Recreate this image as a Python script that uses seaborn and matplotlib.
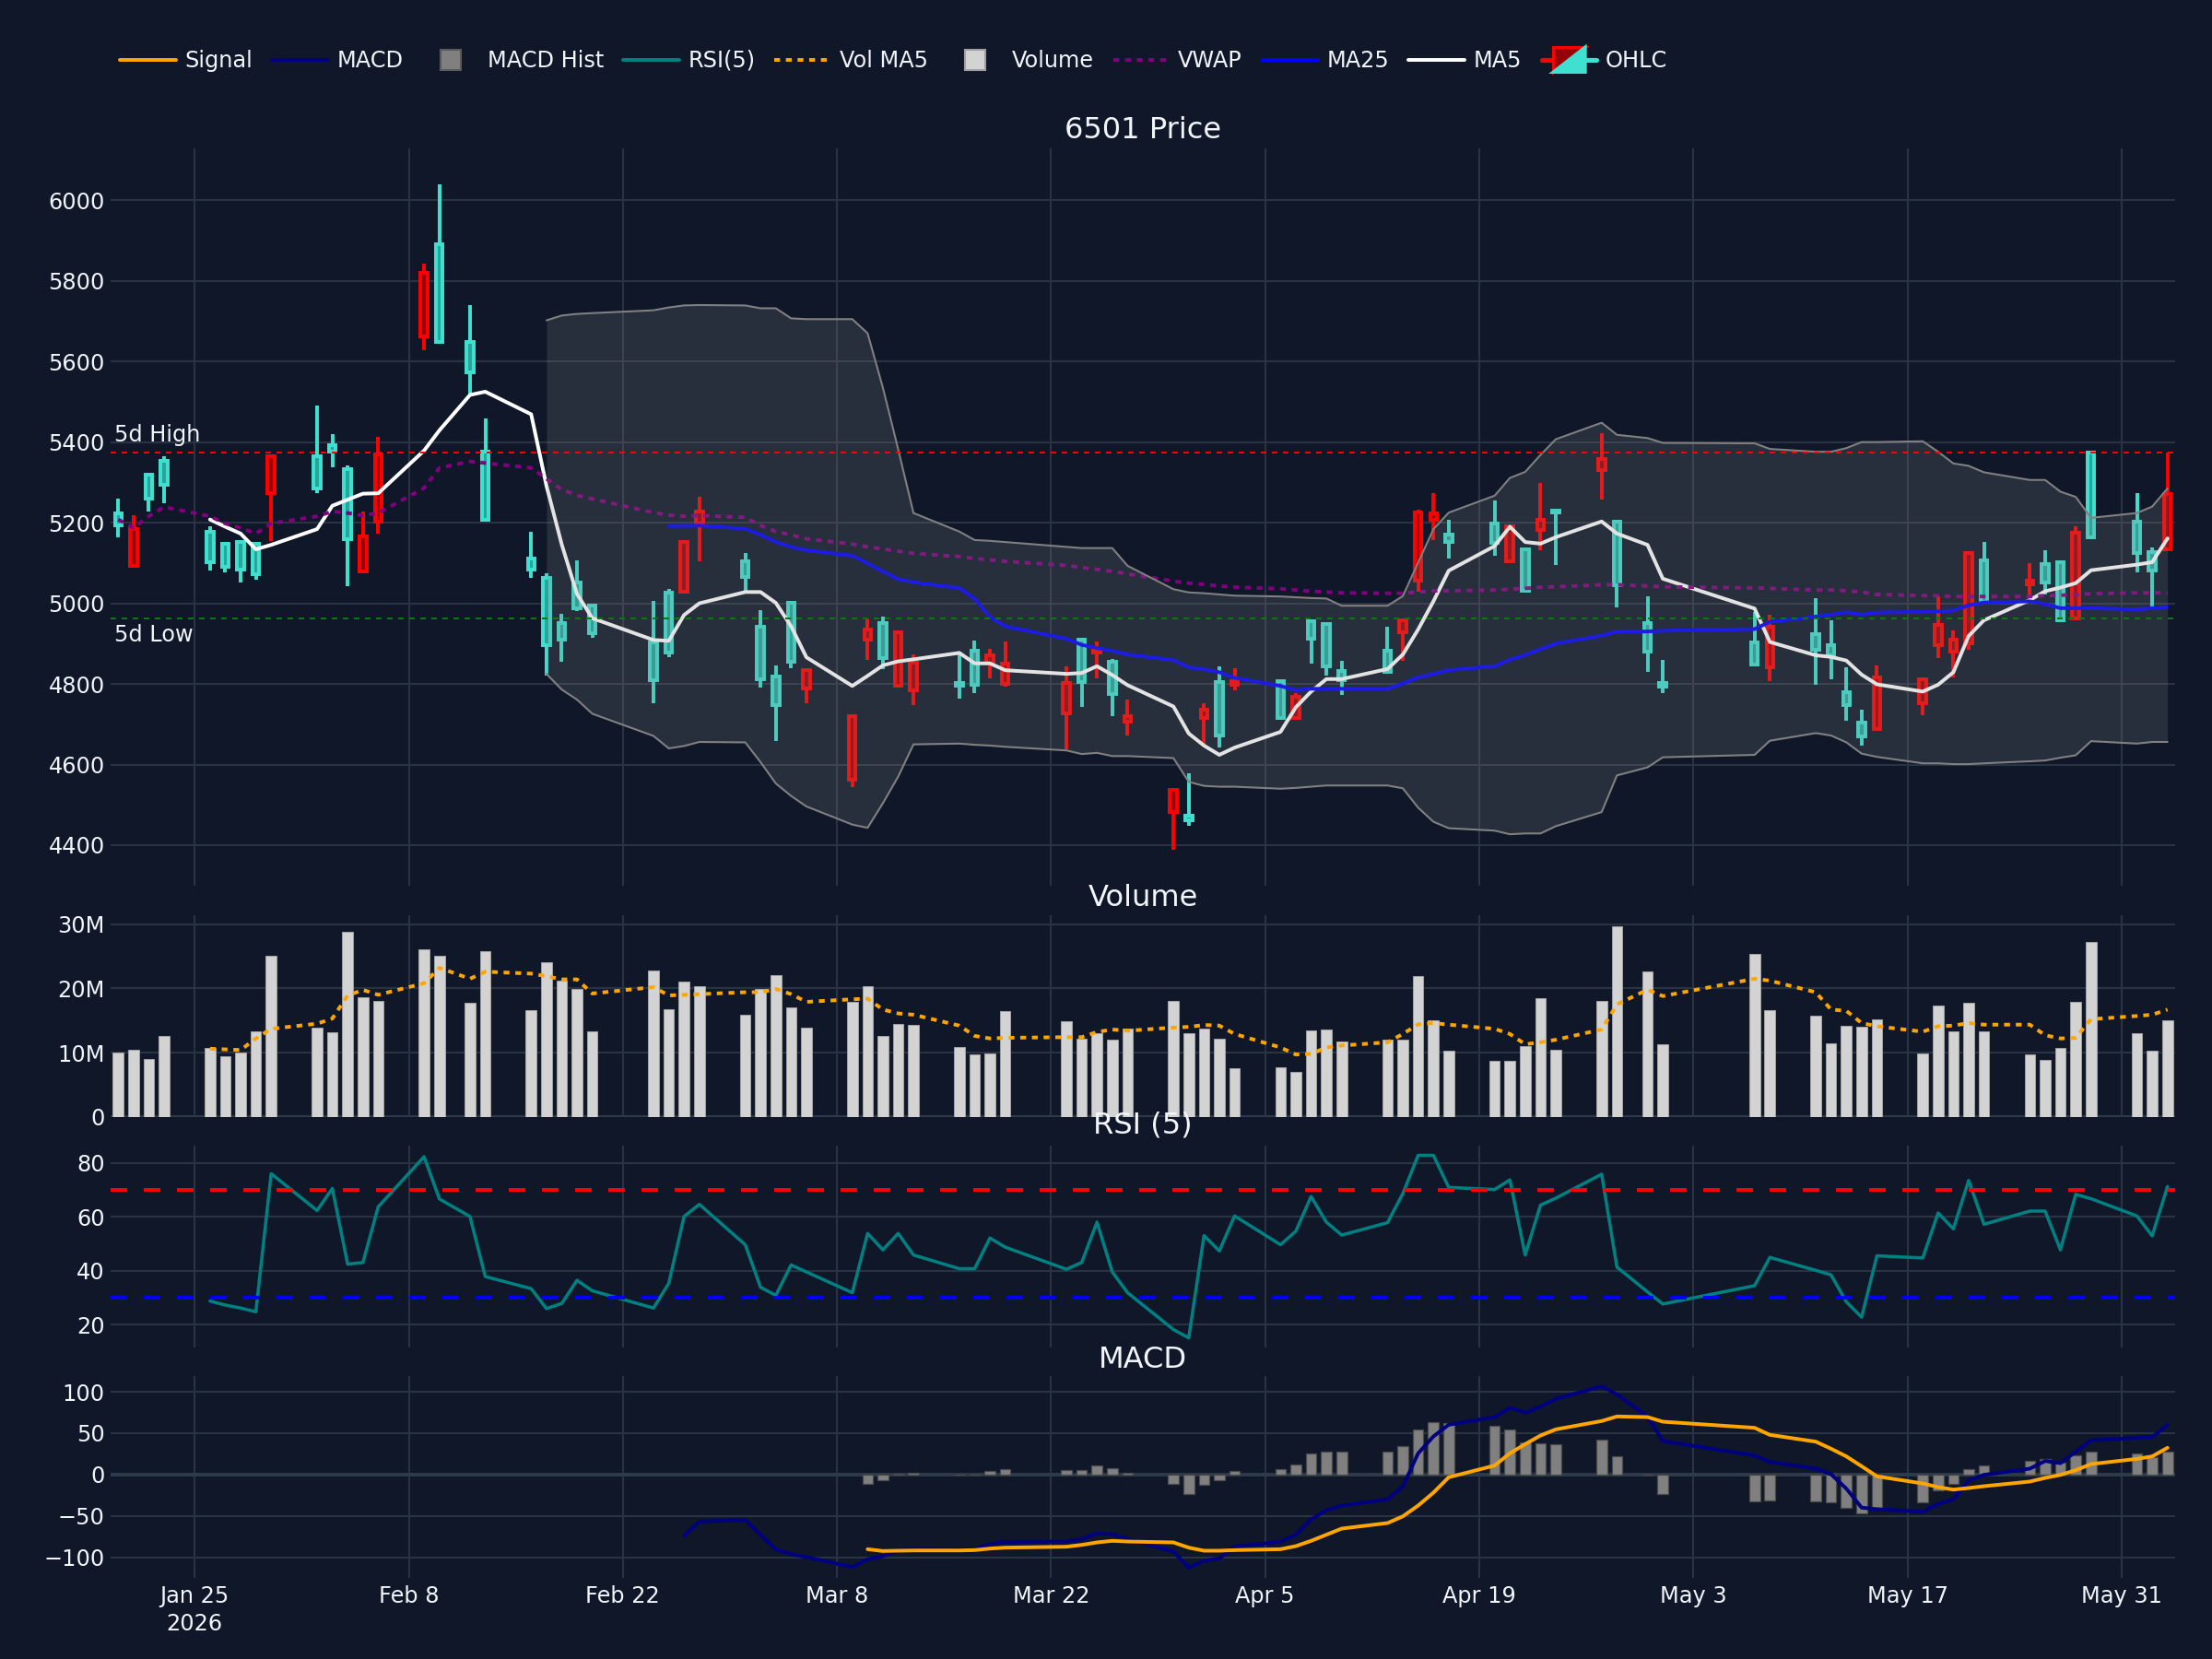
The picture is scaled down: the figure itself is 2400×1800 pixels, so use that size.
import numpy as np
import pandas as pd
import matplotlib
matplotlib.use("Agg")
import matplotlib.pyplot as plt
import matplotlib.dates as mdates
from matplotlib.patches import Rectangle, Polygon
from matplotlib.lines import Line2D
from matplotlib.legend_handler import HandlerBase
import seaborn as sns

# ---------------- trading days (2026) ----------------
jan_days = [20, 21, 22, 23, 26, 27, 28, 29, 30]
feb_days = [2, 3, 4, 5, 6, 9, 10, 12, 13, 16, 17, 18, 19, 20, 24, 25, 26, 27]
mar_days = [2, 3, 4, 5, 6, 9, 10, 11, 12, 13, 16, 17, 18, 19, 23, 24, 25, 26, 27, 30, 31]
apr_days = [1, 2, 3, 6, 7, 8, 9, 10, 13, 14, 15, 16, 17, 20, 21, 22, 23, 24, 27, 28, 30]
may_days = [1, 7, 8, 11, 12, 13, 14, 15, 18, 19, 20, 21, 22, 25, 26, 27, 28, 29]
jun_days = [1, 2, 3]

# ---------------- OHLC ----------------
open_ = [5193, 5184, 5260, 5295, 5103, 5091, 5084, 5073, 5364,
         5284, 5377, 5158, 5167, 5370, 5820, 5648, 5572, 5207, 5084, 4895, 4910, 4988, 4926, 4810, 4877, 5152, 5228,
         5065, 4812, 4747, 4856, 4834, 4720, 4936, 4863, 4928, 4853, 4796, 4798, 4871, 4851, 4802, 4805, 4887, 4776, 4720, 4537, 4462,
         4737, 4672, 4808, 4716, 4767, 4913, 4843, 4810, 4830, 4958, 5225, 5223, 5153, 5149, 5191, 5031, 5206, 5225, 5359, 5044, 4879,
         4793, 4847, 4941, 4884, 4872, 4748, 4669, 4815, 4811, 4947, 4909, 5124, 5004, 5056, 5052, 4957, 5176, 5163,
         5124, 5081, 5271]
high = [5259, 5219, 5320, 5365, 5192, 5150, 5157, 5150, 5366,
        5490, 5420, 5342, 5228, 5412, 5842, 6039, 5739, 5459, 5177, 5075, 4974, 5107, 4996, 5006, 5035, 5157, 5265,
        5124, 4982, 4846, 5004, 4836, 4722, 4961, 4967, 4930, 4873, 4873, 4907, 4886, 4906, 4843, 4915, 4906, 4861, 4762, 4540, 4578,
        4752, 4843, 4839, 4810, 4777, 4958, 4950, 4858, 4943, 4960, 5232, 5273, 5208, 5256, 5193, 5136, 5298, 5231, 5422, 5206, 5018,
        4860, 4979, 4972, 5012, 4958, 4842, 4735, 4845, 4815, 5017, 4932, 5126, 5152, 5100, 5132, 5106, 5192, 5378,
        5273, 5139, 5374]
low = [5163, 5090, 5228, 5249, 5082, 5076, 5052, 5058, 5155,
       5274, 5338, 5043, 5076, 5173, 5628, 5648, 5519, 5205, 5062, 4821, 4854, 4980, 4915, 4751, 4866, 5027, 5105,
       5030, 4790, 4659, 4839, 4752, 4545, 4859, 4836, 4792, 4747, 4764, 4778, 4813, 4793, 4637, 4744, 4813, 4720, 4672, 4389, 4448,
       4650, 4642, 4783, 4713, 4714, 4851, 4821, 4772, 4828, 4858, 5029, 5157, 5110, 5118, 5099, 5029, 5131, 5096, 5258, 4991, 4830,
       4777, 4845, 4808, 4797, 4812, 4708, 4648, 4685, 4722, 4864, 4816, 4884, 5000, 5004, 5021, 4955, 4960, 5161,
       5076, 4993, 5131]
close = [5224, 5093, 5319, 5354, 5178, 5148, 5152, 5148, 5274,
         5364, 5392, 5333, 5079, 5202, 5663, 5890, 5648, 5377, 5111, 5064, 4951, 5052, 4994, 4904, 5027, 5029, 5198,
         5104, 4943, 4818, 5002, 4788, 4563, 4910, 4951, 4795, 4785, 4802, 4882, 4851, 4800, 4728, 4910, 4878, 4856, 4706, 4483, 4472,
         4716, 4805, 4798, 4807, 4716, 4956, 4948, 4832, 4882, 4928, 5057, 5208, 5171, 5197, 5105, 5133, 5181, 5230, 5330, 5203, 4950,
         4803, 4904, 4841, 4923, 4895, 4779, 4703, 4687, 4752, 4897, 4881, 4900, 5106, 5046, 5097, 5103, 4962, 5374,
         5202, 5128, 5135]

# ---------------- volume (millions) ----------------
volume_m = [9.95, 10.4, 9.0, 12.6, 10.7, 9.4, 9.95, 13.25, 25.1,
            13.9, 13.1, 28.75, 18.66, 18.0, 26.1, 25.1, 17.7, 25.8, 16.6, 24.1, 21.2, 19.9, 13.25, 22.8, 16.75, 21.0, 20.4,
            15.9, 19.9, 22.0, 17.0, 13.9, 17.85, 20.4, 12.6, 14.45, 14.3, 10.86, 9.7, 9.8, 16.5, 14.9, 12.15, 13.0, 11.96, 13.7, 18.1, 13.0,
            13.8, 12.2, 7.5, 7.7, 7.0, 13.5, 13.6, 11.7, 12.0, 12.06, 21.9, 15.0, 10.3, 8.7, 8.66, 11.0, 18.5, 10.4, 18.0, 29.7, 22.6,
            11.3, 25.4, 16.6, 15.7, 11.4, 14.1, 14.07, 15.2, 9.8, 17.3, 13.3, 17.7, 13.25, 9.76, 8.8, 10.7, 17.85, 27.2,
            13.06, 10.24, 15.0]
# from Jan 26 on
vol_ma5_m = [10.6, 10.5, 10.4, 12.2, 13.7,
             14.5, 15.3, 18.9, 19.76, 19.0, 20.8, 23.2, 21.5, 22.6, 22.3, 21.9, 21.4, 21.4, 19.2, 20.2, 18.9, 19.0, 19.1,
             19.4, 19.4, 19.9, 19.1, 17.9, 18.3, 18.4, 16.7, 16.1, 15.9, 14.2, 12.6, 12.2, 12.3, 12.4, 12.4, 13.2, 13.6, 13.4, 13.9, 14.0,
             14.3, 14.2, 12.9, 10.8, 9.7, 9.8, 10.8, 11.1, 11.6, 12.9, 14.4, 14.6, 14.35, 13.7, 12.9, 11.3, 11.6, 12.0, 13.6, 17.5, 19.8,
             18.8, 21.5, 21.2, 19.4, 16.7, 16.5, 14.6, 14.1, 13.25, 14.1, 14.2, 14.6, 14.35, 14.35, 12.7, 12.2, 12.3, 15.2,
             15.7, 15.9, 16.7]

# ---------------- price overlays ----------------
ma5 = [5208, 5190, 5173, 5134, 5145,
       5184, 5242, 5257, 5272, 5273, 5379, 5429, 5517, 5525, 5469, 5292, 5146, 5023, 4963, 4909, 4907, 4971, 5000,
       5028, 5028, 5001, 4943, 4866, 4795, 4820, 4846, 4856, 4861, 4877, 4851, 4851, 4834, 4825, 4827, 4844, 4822, 4797, 4744, 4677,
       4647, 4624, 4642, 4681, 4742, 4781, 4812, 4812, 4837, 4873, 4935, 5005, 5081, 5142, 5190, 5152, 5148, 5164, 5203, 5173, 5145,
       5061, 4987, 4904, 4871, 4867, 4858, 4823, 4799, 4781, 4798, 4829, 4919, 4958, 5008, 5030, 5039, 5050, 5082,
       5096, 5102, 5161]
# from Feb 25 on
ma25 = [5192, 5192, 5193,
        5185, 5170, 5152, 5140, 5132, 5118, 5099, 5079, 5060, 5052, 5038, 5011, 4966, 4943, 4912, 4897, 4889, 4882, 4873, 4859, 4841,
        4836, 4829, 4815, 4795, 4784, 4788, 4788, 4788, 4788, 4801, 4816, 4825, 4834, 4844, 4860, 4872, 4886, 4900, 4920, 4930, 4930,
        4932, 4936, 4954, 4967, 4972, 4978, 4972, 4977, 4979, 4980, 4982, 4995, 5002, 5005, 4998, 4988, 4988, 4988,
        4985, 4988, 4991]
vwap = [5208, 5187, 5216, 5239, 5216, 5198, 5187, 5173, 5198,
        5216, 5228, 5224, 5218, 5224, 5286, 5336, 5352, 5348, 5336, 5309, 5282, 5268, 5259, 5225, 5219, 5216, 5218,
        5213, 5193, 5178, 5170, 5160, 5147, 5140, 5135, 5129, 5124, 5116, 5111, 5108, 5104, 5094, 5089, 5084, 5079, 5073, 5055, 5050,
        5047, 5043, 5040, 5036, 5033, 5030, 5028, 5026, 5025, 5025, 5028, 5031, 5031, 5033, 5035, 5037, 5040, 5041, 5046, 5046, 5043,
        5041, 5038, 5037, 5033, 5033, 5031, 5028, 5022, 5019, 5019, 5017, 5017, 5017, 5017, 5019, 5020, 5021, 5024,
        5026, 5026, 5026]
# Bollinger band from Feb 17 on
bb_upper = [5702, 5714, 5718, 5720, 5727, 5734, 5739, 5740,
            5739, 5732, 5732, 5707, 5705, 5705, 5670, 5535, 5382, 5224, 5178, 5157, 5155, 5152, 5140, 5137, 5137, 5137, 5093, 5035, 5027,
            5025, 5022, 5019, 5017, 5015, 5013, 5012, 4994, 4994, 5018, 5101, 5184, 5225, 5267, 5311, 5326, 5368, 5407, 5448, 5418, 5410,
            5398, 5397, 5383, 5376, 5376, 5385, 5400, 5400, 5402, 5376, 5347, 5341, 5325, 5306, 5306, 5277, 5264, 5212,
            5224, 5240, 5285]
bb_lower = [4825, 4786, 4761, 4726, 4671, 4640, 4646, 4656,
            4655, 4606, 4553, 4522, 4496, 4451, 4443, 4504, 4570, 4650, 4652, 4649, 4647, 4644, 4635, 4626, 4629, 4621, 4621, 4616, 4557,
            4547, 4545, 4545, 4540, 4542, 4545, 4548, 4548, 4548, 4541, 4493, 4458, 4442, 4436, 4427, 4429, 4429, 4447, 4482, 4573, 4593,
            4618, 4624, 4659, 4678, 4672, 4655, 4627, 4619, 4603, 4603, 4601, 4601, 4603, 4608, 4610, 4617, 4623, 4658,
            4652, 4656, 4656]
high_5d = 5375
low_5d = 4962

# ---------------- RSI(5), from Jan 26 on ----------------
rsi5 = [28.7, 27.2, 26.1, 24.7, 76.0,
        62.3, 70.5, 42.4, 43.0, 63.7, 82.3, 66.6, 60.1, 37.8, 33.3, 25.9, 27.8, 36.4, 32.5, 26.1, 35.3, 60.1, 64.6,
        49.6, 33.8, 30.8, 42.1, 39.5, 31.8, 53.8, 47.7, 53.8, 45.8, 40.7, 40.7, 52.1, 48.7, 40.5, 43.0, 58.0, 39.5, 31.8, 18.1, 15.0,
        53.0, 47.3, 60.3, 49.6, 54.6, 67.5, 58.0, 53.2, 57.8, 68.6, 82.8, 82.8, 70.9, 70.1, 73.7, 45.8, 64.3, 66.9, 75.8, 41.3, 32.1,
        27.6, 34.4, 44.9, 40.1, 38.4, 28.4, 22.7, 45.5, 44.7, 61.4, 55.5, 73.5, 57.2, 62.1, 62.1, 47.7, 68.3, 66.7,
        60.3, 52.9, 71.2]

# ---------------- MACD ----------------
# MACD line from Feb 26 on
macd = [-73.8, -56.8,
        -54.9, -72.7, -90.5, -96.1, -99.8, -111.7, -102.4, -98.7, -91.3, -89.4, -90.5, -90.5, -83.9, -81.3, -80.9, -78.3, -70.9,
        -72.0, -77.6, -93.1, -112.4,
        -104.3, -101.3, -86.8, -81.3, -72.7, -54.2, -43.0, -37.5, -30.0, -14.5, 25.6, 46.0, 60.1, 69.4, 80.5, 74.6, 82.0, 91.3,
        106.5, 96.8, 70.1,
        40.4, 23.0, 15.2, 7.1, 0.4, -17.0, -40.0, -41.9, -44.9, -35.6, -30.0, -7.0, -0.4, 7.1, 16.3, 13.7, 27.5, 41.2,
        44.2, 45.3, 59.7]
# signal and histogram from Mar 10 on
signal = [-90.2, -92.4, -92.0, -91.7, -91.7, -91.3, -89.4, -88.3, -87.2, -85.0, -82.0, -80.1, -80.9, -82.0, -88.3,
          -92.0, -92.0, -91.3, -90.2, -86.5, -80.1, -72.7, -65.3, -58.6, -50.5, -37.5, -21.9, -3.3, 10.8, 25.6, 36.7, 47.1, 54.5,
          64.6, 70.1, 69.4,
          63.8, 56.4, 47.9, 39.7, 31.2, 21.9, 10.0, -2.2, -10.8, -15.2, -18.2, -16.3, -14.1, -8.5, -4.1, -0.4, 5.2, 12.6,
          18.9, 21.9, 32.3]
macd_hist = [-11.5, -6.7, 0.7, 2.2, -0.4, -0.4, 4.1, 6.7, 5.2, 5.9, 10.8, 7.8, 2.2, -11.5, -23.4,
             -12.2, -6.7, 4.5, 7.0, 12.6, 25.6, 28.2, 27.1, 27.8, 34.5, 54.2, 63.8, 62.7, 58.3, 54.5, 38.6, 37.8, 36.7,
             41.6, 21.9, -0.5,
             -23.4, -32.7, -31.2, -32.7, -33.4, -40.0, -46.8, -40.0, -33.8, -18.9, -11.5, 6.3, 10.8, 16.0, 19.3, 14.5, 23.0, 27.1,
             25.6, 20.8, 27.5]

tick_labels = ["Jan 25\n2026", "Feb 8", "Feb 22", "Mar 8", "Mar 22", "Apr 5", "Apr 19", "May 3", "May 17", "May 31"]

# ---------------- styling ----------------
BG = "#0f1729"
GRID = "#283442"
ZERO = "#2c3a4a"
TXT = "#f2f5fa"
TEAL = "#40e0d0"
TEAL_FILL = "#28a59b"
RED = "#ff0000"
RED_FILL = "#960008"

sns.set_theme(style="dark", rc={
    "axes.facecolor": BG, "figure.facecolor": BG, "savefig.facecolor": BG,
    "text.color": TXT, "xtick.color": TXT, "ytick.color": TXT,
    "axes.edgecolor": BG, "axes.labelcolor": TXT,
})
plt.rcParams["font.family"] = ["DejaVu Sans"]

all_days = [(1, jan_days), (2, feb_days), (3, mar_days), (4, apr_days), (5, may_days), (6, jun_days)]
dates = pd.to_datetime([f"2026-{m:02d}-{d:02d}" for m, ds in all_days for d in ds])
xd = mdates.date2num(dates.to_pydatetime())
n = len(xd)
i_ma5 = n - len(ma5)
i_ma25 = n - len(ma25)
i_bb = n - len(bb_upper)
i_macd = n - len(macd)
i_sig = n - len(signal)

tick_x = mdates.date2num(pd.date_range("2026-01-25", periods=len(tick_labels), freq="14D").to_pydatetime())

fig = plt.figure(figsize=(16, 12), dpi=150)
L, W = 0.05, 0.93333
H_small = 0.12133
ax_p = fig.add_axes([L, 0.46628, W, 0.44411])
ax_v = fig.add_axes([L, 0.32683, W, H_small])
ax_r = fig.add_axes([L, 0.18794, W, H_small])
ax_m = fig.add_axes([L, 0.04906, W, H_small])
axes = [ax_p, ax_v, ax_r, ax_m]

FS = 11.5
for ax in axes:
    ax.set_facecolor(BG)
    for s in ax.spines.values():
        s.set_visible(False)
    ax.set_xlim(xd[0] - 0.5, xd[-1] + 0.5)
    ax.set_xticks(tick_x)
    ax.grid(True, color=GRID, linewidth=1.0)
    ax.set_axisbelow(True)
    ax.tick_params(length=0, labelsize=FS, colors=TXT, pad=3)
for ax in axes[:-1]:
    ax.set_xticklabels([])
ax_m.set_xticklabels(tick_labels, linespacing=1.3)
ax_m.tick_params(axis="x", pad=4)


def line(ax, xs, ys, color, lw=1.9, dashes=None, z=3):
    sns.lineplot(x=xs, y=ys, ax=ax, color=color, linewidth=lw, errorbar=None,
                 legend=False, zorder=z, sort=False)
    ln = ax.lines[-1]
    if dashes is not None:
        ln.set_dashes(dashes)
        ln.set_dash_capstyle("butt")
    ax.set_xlabel("")
    ax.set_ylabel("")
    return ln


# ---------------- price panel ----------------
BW = 0.45
for xi, o, h, l, c in zip(xd, open_, high, low, close):
    up = c >= o
    col = TEAL if up else RED
    fc = TEAL_FILL if up else RED_FILL
    ax_p.plot([xi, xi], [l, h], color=col, lw=1.9, solid_capstyle="butt", zorder=2)
    ax_p.add_patch(Rectangle((xi - BW / 2, min(o, c)), BW, abs(c - o), facecolor=fc,
                             edgecolor=col, lw=1.9, zorder=2.5, joinstyle="miter"))

line(ax_p, xd[i_ma5:], ma5, "white", lw=1.9, z=3)
line(ax_p, xd[i_ma25:], ma25, "#0000ff", lw=1.9, z=3)
line(ax_p, xd, vwap, "#800080", lw=1.9, dashes=(1.6, 1.6), z=3)

ax_p.fill_between(xd[i_bb:], bb_lower, bb_upper, color="#808080", alpha=0.22, lw=0, zorder=4)
ax_p.plot(xd[i_bb:], bb_upper, color="#808080", lw=1.0, zorder=4.1)
ax_p.plot(xd[i_bb:], bb_lower, color="#808080", lw=1.0, zorder=4.1)

hl = ax_p.axhline(high_5d, color="#ff0000", lw=0.96, zorder=5)
hl.set_dashes((3, 3))
ll = ax_p.axhline(low_5d, color="#008000", lw=0.96, zorder=5)
ll.set_dashes((3, 3))
ax_p.annotate("5d High", xy=(0, high_5d), xycoords=ax_p.get_yaxis_transform(),
              xytext=(2, 3), textcoords="offset points", ha="left", va="bottom",
              fontsize=FS, color=TXT, zorder=6)
ax_p.annotate("5d Low", xy=(0, low_5d), xycoords=ax_p.get_yaxis_transform(),
              xytext=(2, -3), textcoords="offset points", ha="left", va="top",
              fontsize=FS, color=TXT, zorder=6)

ax_p.set_ylim(4300, 6128)
ax_p.set_yticks([4400, 4600, 4800, 5000, 5200, 5400, 5600, 5800, 6000])
ax_p.set_yticklabels([str(v) for v in [4400, 4600, 4800, 5000, 5200, 5400, 5600, 5800, 6000]])

# ---------------- volume panel ----------------
vol = np.array(volume_m) * 1e6
ax_v.axhline(0, color=ZERO, lw=1.9, zorder=0.8)
ax_v.bar(xd, vol, width=0.7, color="#d3d3d3", edgecolor="#a0a0a0", linewidth=0.5, zorder=2)
line(ax_v, xd[i_ma5:], np.array(vol_ma5_m) * 1e6, "#ffa500", lw=1.9, dashes=(1.6, 1.6), z=3)
ax_v.set_ylim(0, 31.35e6)
ax_v.set_yticks([0, 10e6, 20e6, 30e6])
ax_v.set_yticklabels(["0", "10M", "20M", "30M"])

# ---------------- RSI panel ----------------
line(ax_r, xd[i_ma5:], rsi5, "#008080", lw=1.7, z=3)
r70 = ax_r.axhline(70, color="#ff0000", lw=1.92, zorder=4)
r70.set_dashes((4.5, 4.5))
r30 = ax_r.axhline(30, color="#0000ff", lw=1.92, zorder=4)
r30.set_dashes((4.5, 4.5))
ax_r.set_ylim(11.55, 86.3)
ax_r.set_yticks([20, 40, 60, 80])
ax_r.set_yticklabels(["20", "40", "60", "80"])

# ---------------- MACD panel ----------------
ax_m.axhline(0, color=ZERO, lw=1.9, zorder=0.8)
ax_m.bar(xd[i_sig:], macd_hist, width=0.7, color="#808080", edgecolor="#4a4a4a", linewidth=0.6, zorder=2)
line(ax_m, xd[i_macd:], macd, "#000080", lw=1.9, z=3)
line(ax_m, xd[i_sig:], signal, "#ffa500", lw=1.9, z=3.1)
ax_m.set_ylim(-124.5, 118.6)
ax_m.set_yticks([-100, -50, 0, 50, 100])
ax_m.set_yticklabels(["\u2212100", "\u221250", "0", "50", "100"])

# ---------------- titles ----------------
cx = L + W / 2
TS = 15.4
fig.text(cx, 1 - 141 / 1800, "6501 Price", ha="center", va="center", fontsize=TS, color=TXT)
fig.text(cx, 1 - 975 / 1800, "Volume", ha="center", va="center", fontsize=TS, color=TXT)
fig.text(cx, 1 - 1221 / 1800, "RSI (5)", ha="center", va="center", fontsize=TS, color=TXT)
fig.text(cx, 1 - 1475 / 1800, "MACD", ha="center", va="center", fontsize=TS, color=TXT)


# ---------------- legend ----------------
class CandleHandler(HandlerBase):
    def create_artists(self, legend, orig_handle, xdescent, ydescent, width, height, fontsize, trans):
        x0, y0 = -xdescent, -ydescent
        cxh, cyh = x0 + width / 2, y0 + height / 2
        bw, bh = width * 0.58, height * 1.65
        lft, rgt, bot, top = cxh - bw / 2, cxh + bw / 2, cyh - bh / 2, cyh + bh / 2
        wl = Line2D([x0 + width * 0.02, lft], [cyh, cyh], color=RED, lw=2.5, transform=trans)
        wr = Line2D([rgt, x0 + width * 0.98], [cyh, cyh], color=TEAL, lw=2.5, transform=trans)
        p_red = Polygon([[lft, bot], [lft, top], [rgt, top]], closed=True, facecolor=RED_FILL,
                        edgecolor=RED, lw=1.5, transform=trans)
        p_teal = Polygon([[lft, bot], [rgt, top], [rgt, bot]], closed=True, facecolor=TEAL,
                         edgecolor=TEAL, lw=1.5, transform=trans)
        return [wl, wr, p_red, p_teal]


def dotted(color):
    h = Line2D([], [], color=color, lw=1.9)
    h.set_dashes((1.6, 1.6))
    return h


ohlc_handle = Rectangle((0, 0), 1, 1)
handles = [
    Line2D([], [], color="#ffa500", lw=1.9),
    Line2D([], [], color="#000080", lw=1.9),
    Line2D([], [], ls="none", marker="s", markersize=11, markerfacecolor="#808080", markeredgecolor="#5a5a5a"),
    Line2D([], [], color="#008080", lw=1.9),
    dotted("#ffa500"),
    Line2D([], [], ls="none", marker="s", markersize=11, markerfacecolor="#d3d3d3", markeredgecolor="#a0a0a0"),
    dotted("#800080"),
    Line2D([], [], color="#0000ff", lw=1.9),
    Line2D([], [], color="white", lw=1.9),
    ohlc_handle,
]
labels = ["Signal", "MACD", "MACD Hist", "RSI(5)", "Vol MA5", "Volume", "VWAP", "MA25", "MA5", "OHLC"]
fig.legend(handles, labels, loc="center left", bbox_to_anchor=(0.0542, 1 - 66 / 1800), ncol=10,
           frameon=False, borderaxespad=0, borderpad=0, handlelength=2.55, handletextpad=0.38,
           columnspacing=0.88, fontsize=FS, labelcolor=TXT,
           handler_map={ohlc_handle: CandleHandler()})

fig.savefig("out.png", dpi=150, facecolor=BG)
